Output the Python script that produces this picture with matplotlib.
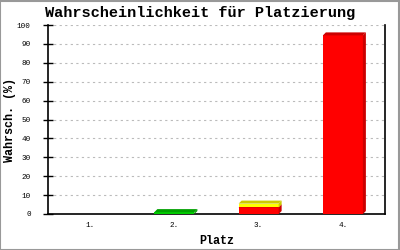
import matplotlib
matplotlib.use("Agg")
import matplotlib.pyplot as plt
from matplotlib.patches import Polygon
import numpy as np

# data
places = ["1.", "2.", "3.", "4."]
red_vals = [0, 0, 3.5, 94.5]
yellow_vals = [0, 0, 2, 0]
green_vals = [0, 1, 0, 0]
yticks = list(range(0, 101, 10))

mono = ["Liberation Mono", "DejaVu Sans Mono"]

fig = plt.figure(figsize=(4, 2.5), dpi=100)
fig.patch.set_facecolor("white")
ax = fig.add_axes([0.12, 0.144, 0.8425, 0.756])

x = np.arange(len(places))
width = 0.475
# 3d depth in data units (about 3px right, 3px up)
dx = 3 / 337 * 4
dy = 3 / 189 * 100

def bar3d(xc, bottom, h, front, dark):
    if h <= 0:
        return
    x0 = xc - width / 2
    x1 = xc + width / 2
    ax.bar(xc, h, width, bottom=bottom, color=front, edgecolor="none", zorder=3)
    top = bottom + h
    ax.add_patch(Polygon([(x0, top), (x1, top), (x1 + dx, top + dy), (x0 + dx, top + dy)],
                         closed=True, facecolor=dark, edgecolor="none", zorder=3))
    ax.add_patch(Polygon([(x1, bottom), (x1 + dx, bottom + dy), (x1 + dx, top + dy), (x1, top)],
                         closed=True, facecolor=dark, edgecolor="none", zorder=3))

for i in range(len(places)):
    bar3d(x[i], 0, red_vals[i], "#ff0000", "#cc0000")
    bar3d(x[i], red_vals[i], yellow_vals[i], "#ffff00", "#cccc00")
    bar3d(x[i], 0, green_vals[i], "#00cc00", "#00a000")

ax.set_xlim(-0.5, len(places) - 0.5)
ax.set_ylim(0, 100)
ax.set_yticks(yticks)
ax.set_yticklabels([str(t) for t in yticks], family=mono, fontsize=5.5)
ax.set_xticks(x)
ax.set_xticklabels(places, family=mono, fontsize=5.5)
ax.tick_params(axis="x", length=0, pad=6)
ax.tick_params(axis="y", direction="inout", length=7, width=1, pad=9)

for t in yticks[1:]:
    ax.axhline(t, color="#bbbbbb", linestyle=(0, (2, 3)), linewidth=0.8, zorder=1)

ax.spines["top"].set_visible(False)
for s in ["left", "right", "bottom"]:
    ax.spines[s].set_linewidth(1.2)
    ax.spines[s].set_color("black")

fig.text(0.5, 0.93, "Wahrscheinlichkeit für Platzierung", family=mono, fontsize=11,
         fontweight="bold", ha="center", va="baseline")
ax.set_xlabel("Platz", family=mono, fontsize=8.5, fontweight="bold", labelpad=4)
ax.set_ylabel("Wahrsch. (%)", family=mono, fontsize=8.5, fontweight="bold")
ax.yaxis.set_label_coords(-0.095, 0.5)

# thin grey frame around the picture
fig.add_artist(plt.Rectangle((0.001, 0.002), 0.997, 0.996, transform=fig.transFigure,
                             fill=False, edgecolor="#999999", linewidth=1.5))

fig.savefig("out.png", dpi=100)
